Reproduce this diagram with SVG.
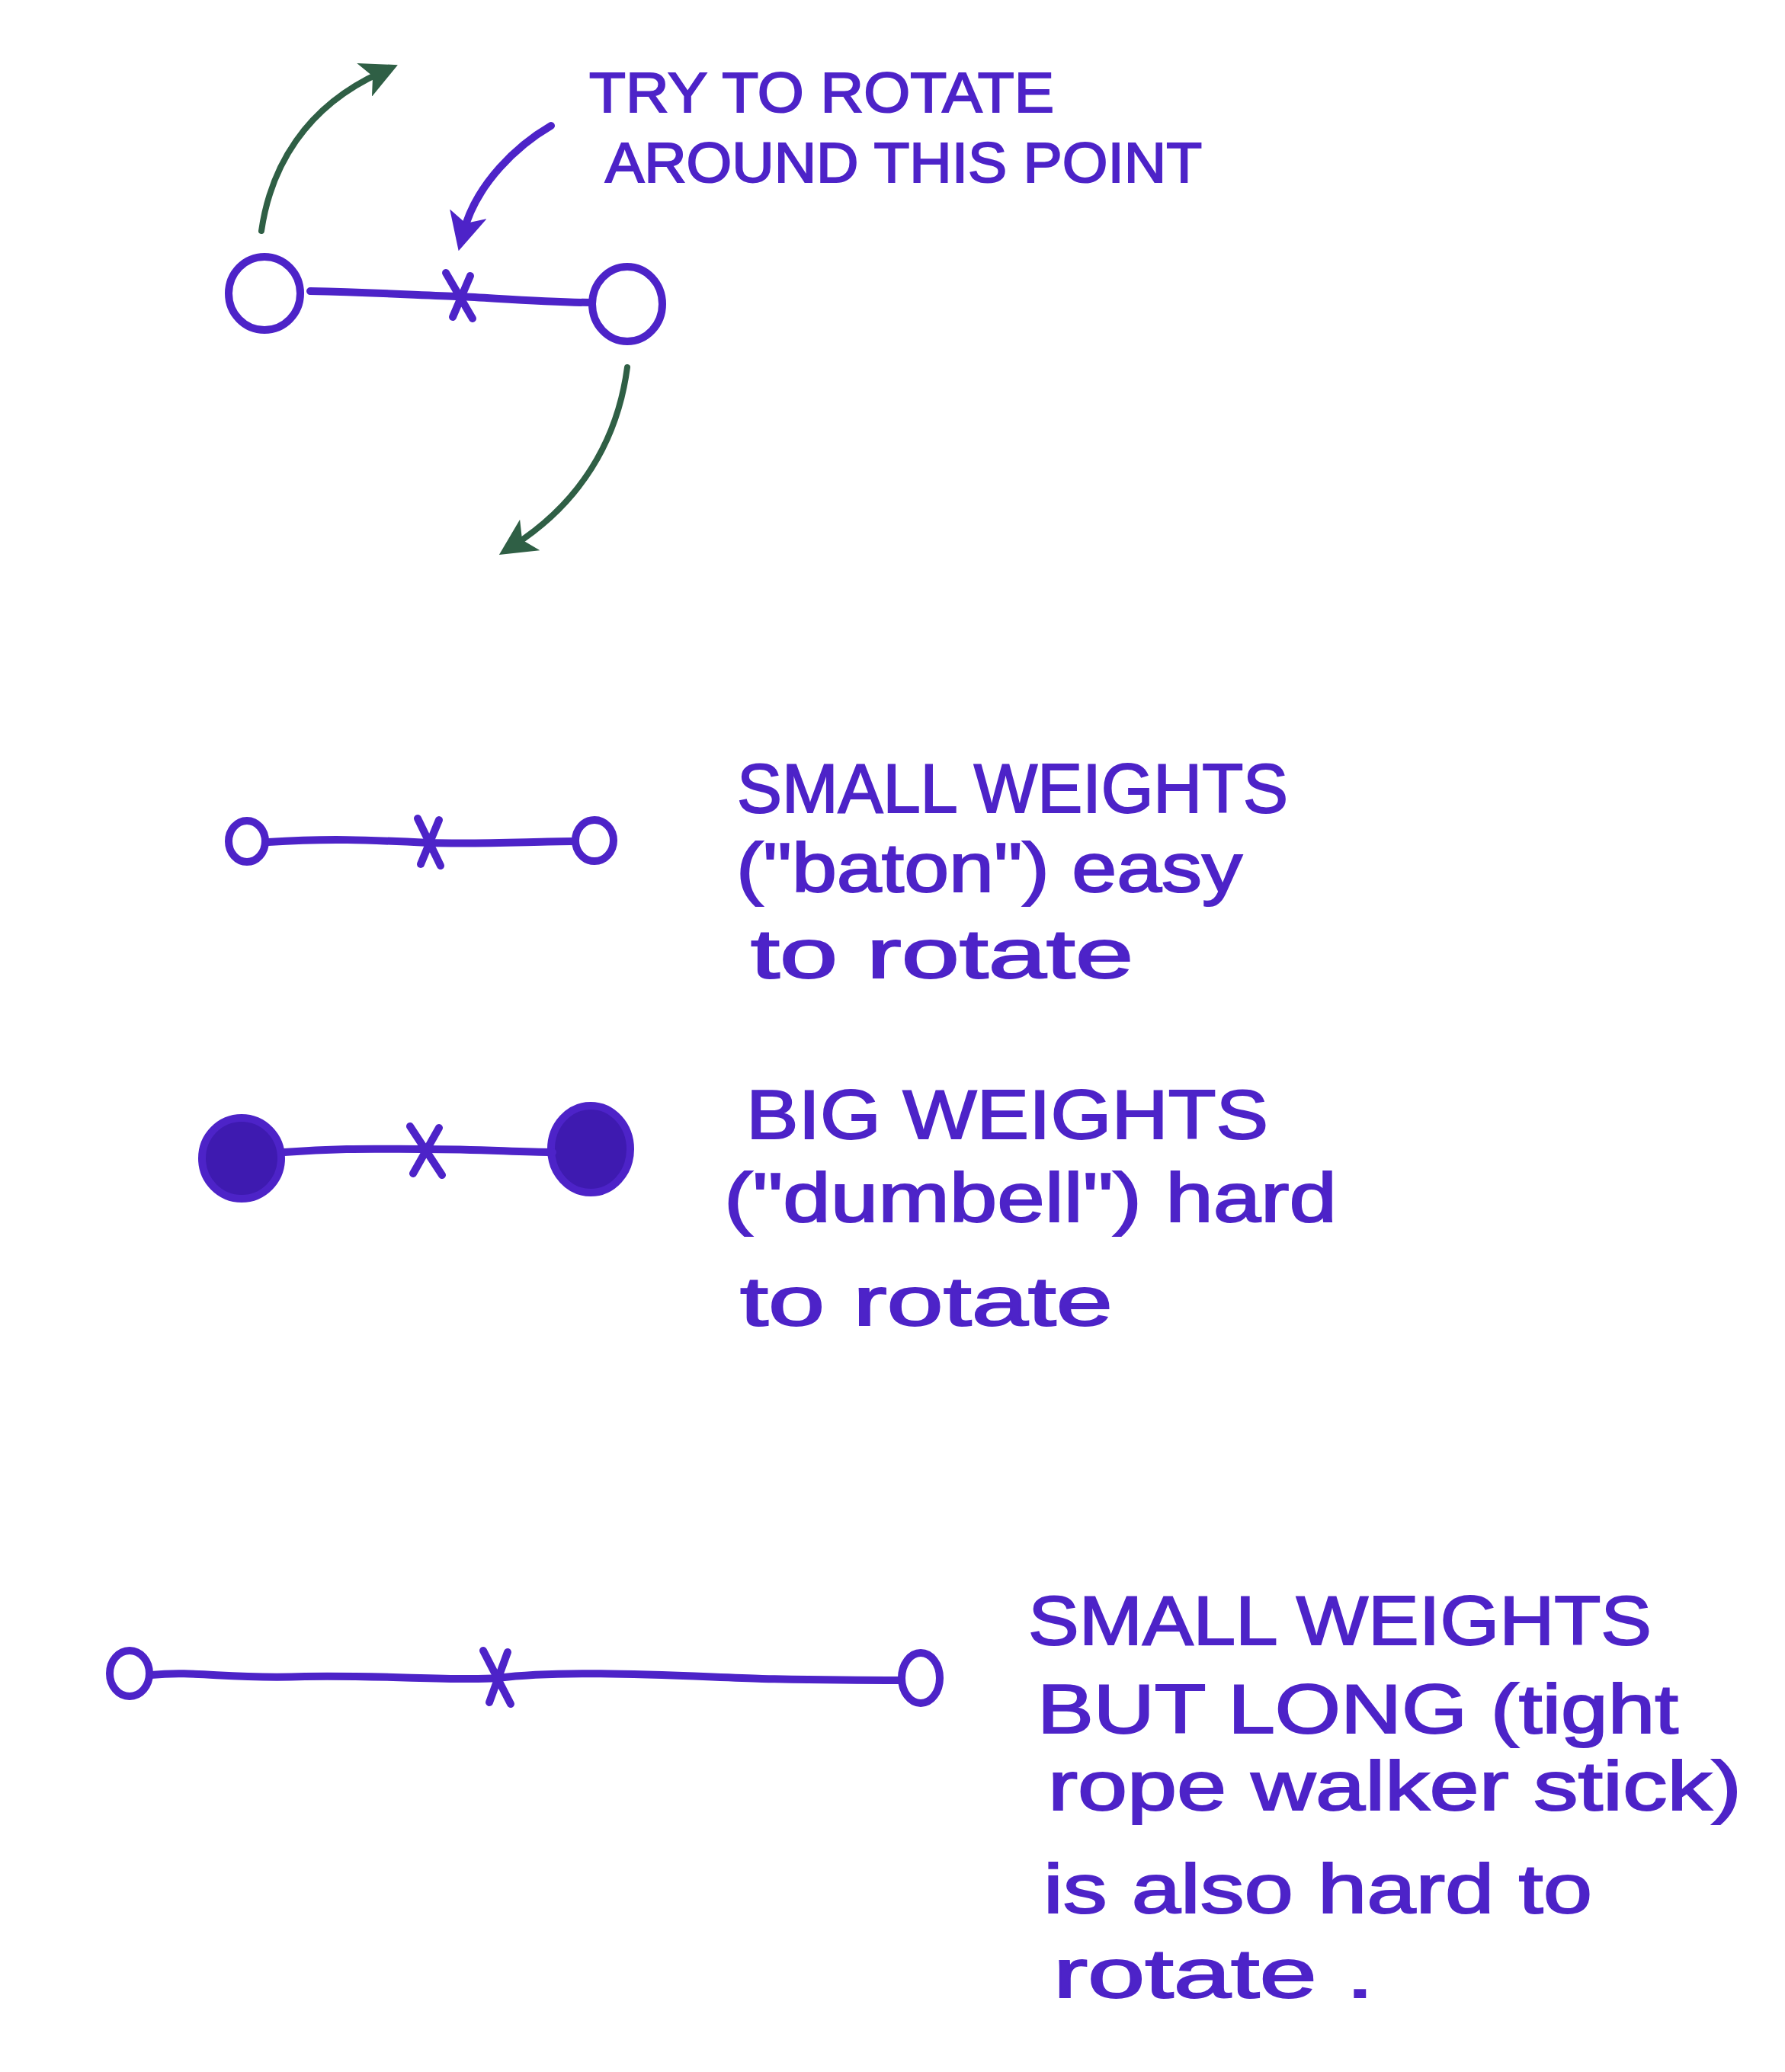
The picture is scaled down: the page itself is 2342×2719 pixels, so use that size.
<svg xmlns="http://www.w3.org/2000/svg" width="2342" height="2719" viewBox="0 0 2342 2719">
<defs>
<style>
.ink{fill:none;stroke:#4d23c8;stroke-width:10;stroke-linecap:round;stroke-linejoin:round}
.solid{fill:#3e1ab0;stroke:#4d23c8;stroke-width:10}
.grn{fill:none;stroke:#2f5f45;stroke-width:8;stroke-linecap:round}
.t{font-family:"Liberation Sans",Arial,sans-serif;fill:#4d23c8;stroke:#4d23c8;stroke-width:2}
</style>
<marker id="ah-g" viewBox="0 0 12 12" refX="6" refY="6" markerWidth="6" markerHeight="6" orient="auto" markerUnits="strokeWidth">
<path d="M0,0 L12,6 L0,12 L3,6 Z" fill="#2f5f45"/>
</marker>
<marker id="ah-p" viewBox="0 0 12 12" refX="6" refY="6" markerWidth="5" markerHeight="5" orient="auto" markerUnits="strokeWidth">
<path d="M0,0 L12,6 L0,12 L3,6 Z" fill="#4d23c8"/>
</marker>
</defs>
<rect width="2342" height="2719" fill="#ffffff"/>

<g id="connectors">
<path class="grn" d="M343,303 C355,220 400,140 500,95" marker-end="url(#ah-g)"/>
<path class="grn" d="M823,482 C810,580 760,660 675,715" marker-end="url(#ah-g)"/>
<path class="ink" d="M723,165 C680,190 625,240 608,305" marker-end="url(#ah-p)"/>
</g>

<g id="node-top">
<ellipse class="ink" cx="347" cy="385" rx="47" ry="48"/>
<ellipse class="ink" cx="823" cy="399" rx="46" ry="49"/>
<path class="ink" d="M407,382 C500,384 560,388 603,389 C660,392 720,397 777,397"/>
<path class="ink" d="M585,358 L620,418 M617,362 L594,416"/>
</g>

<g id="label-top">
<text class="t" x="773" y="147" font-size="74" textLength="610" lengthAdjust="spacingAndGlyphs">TRY TO ROTATE</text>
<text class="t" x="794" y="239" font-size="74" textLength="783" lengthAdjust="spacingAndGlyphs">AROUND THIS POINT</text>
</g>

<g id="node-baton">
<ellipse class="ink" cx="324" cy="1104" rx="24" ry="27"/>
<ellipse class="ink" cx="780" cy="1103" rx="25" ry="27"/>
<path class="ink" d="M352,1105 C430,1100 480,1102 563,1106 C640,1108 700,1104 752,1104"/>
<path class="ink" d="M548,1074 L578,1136 M576,1076 L552,1134"/>
</g>

<g id="label-baton">
<text class="t" x="967" y="1066" font-size="90" textLength="723" lengthAdjust="spacingAndGlyphs">SMALL WEIGHTS</text>
<text class="t" x="966" y="1170" font-size="90" textLength="664" lengthAdjust="spacingAndGlyphs">("baton") easy</text>
<text class="t" x="985" y="1283" font-size="90" textLength="502" lengthAdjust="spacingAndGlyphs">to rotate</text>
</g>

<g id="node-dumbell">
<ellipse class="solid" cx="317" cy="1520" rx="52" ry="53"/>
<ellipse class="solid" cx="775" cy="1508" rx="52" ry="57"/>
<path class="ink" d="M373,1512 C450,1506 500,1508 558,1508 C630,1508 680,1512 725,1512"/>
<path class="ink" d="M538,1478 L580,1542 M576,1480 L542,1540"/>
</g>

<g id="label-dumbell">
<text class="t" x="979" y="1494" font-size="90" textLength="685" lengthAdjust="spacingAndGlyphs">BIG WEIGHTS</text>
<text class="t" x="950" y="1603" font-size="90" textLength="804" lengthAdjust="spacingAndGlyphs">("dumbell") hard</text>
<text class="t" x="971" y="1739" font-size="90" textLength="489" lengthAdjust="spacingAndGlyphs">to rotate</text>
</g>

<g id="node-stick">
<ellipse class="ink" cx="170" cy="2196" rx="26" ry="30"/>
<ellipse class="ink" cx="1208" cy="2202" rx="25" ry="33"/>
<path class="ink" d="M198,2198 C260,2192 300,2204 400,2200 C500,2198 600,2206 653,2202 C750,2190 900,2200 1000,2203 C1100,2205 1150,2205 1182,2205"/>
<path class="ink" d="M634,2166 L670,2236 M666,2168 L642,2234"/>
</g>

<g id="label-stick">
<text class="t" x="1349" y="2158" font-size="90" textLength="818" lengthAdjust="spacingAndGlyphs">SMALL WEIGHTS</text>
<text class="t" x="1361" y="2274" font-size="90" textLength="841" lengthAdjust="spacingAndGlyphs">BUT LONG (tight</text>
<text class="t" x="1375" y="2375" font-size="90" textLength="910" lengthAdjust="spacingAndGlyphs">rope walker stick)</text>
<text class="t" x="1369" y="2510" font-size="90" textLength="720" lengthAdjust="spacingAndGlyphs">is also hard to</text>
<text class="t" x="1382" y="2621" font-size="90" textLength="421" lengthAdjust="spacingAndGlyphs">rotate .</text>
</g>
</svg>
